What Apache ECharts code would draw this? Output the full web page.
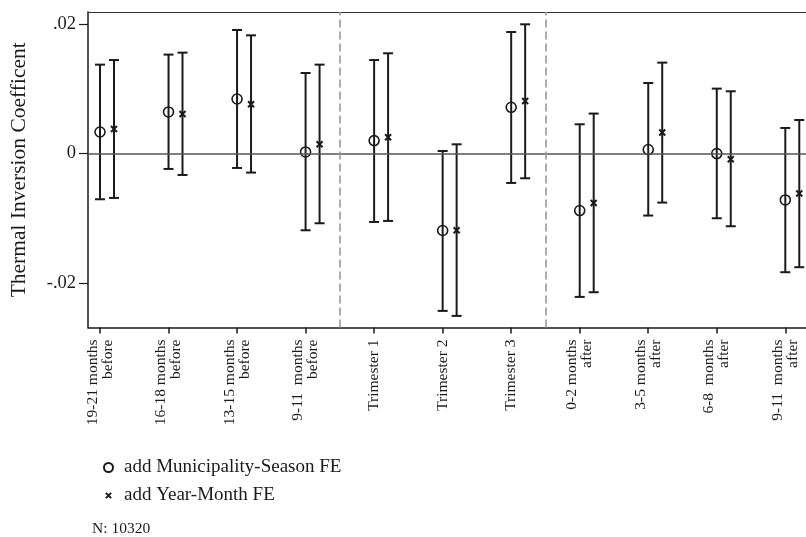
<!DOCTYPE html>
<html>
<head>
<meta charset="utf-8">
<style>
  html, body { margin: 0; padding: 0; background: #fff; }
  #chart { width: 806px; height: 537px; }
</style>
<script src="https://cdn.jsdelivr.net/npm/echarts@6/dist/echarts.min.js"></script>
</head>
<body>
<div id="chart"></div>
<script>
// Exposure windows (relative to birth) on the horizontal axis
const categories = [
  '19-21 months\nbefore', '16-18 months\nbefore', '13-15 months\nbefore', '9-11  months\nbefore',
  'Trimester 1', 'Trimester 2', 'Trimester 3',
  '0-2 months\nafter', '3-5 months\nafter', '6-8  months\nafter', '9-11  months\nafter'
];

// Model 1: add Municipality-Season FE
const est1 = [0.00333, 0.00642, 0.00842, 0.00025, 0.00200, -0.01187, 0.00714, -0.00879, 0.00062, 0.00000, -0.00715];
const lo1  = [-0.00705, -0.00237, -0.00222, -0.01183, -0.01055, -0.02427, -0.00453, -0.02211, -0.00956, -0.00998, -0.01830];
const hi1  = [0.01372, 0.01527, 0.01906, 0.01243, 0.01443, 0.00040, 0.01875, 0.00452, 0.01089, 0.01002, 0.00395];

// Model 2: add Year-Month FE
const est2 = [0.00379, 0.00611, 0.00760, 0.00143, 0.00251, -0.01183, 0.00811, -0.00762, 0.00324, -0.00088, -0.00617];
const lo2  = [-0.00684, -0.00330, -0.00293, -0.01075, -0.01039, -0.02504, -0.00381, -0.02139, -0.00756, -0.01121, -0.01753];
const hi2  = [0.01443, 0.01557, 0.01824, 0.01372, 0.01547, 0.00143, 0.01994, 0.00617, 0.01403, 0.00961, 0.00518];

// Y tick labels
const yTicks = [-0.02, 0, 0.02];
const yTickLabels = ['-.02', '0', '.02'];

const seriesNames = ['add Municipality-Season FE', 'add Year-Month FE'];
const sampleNote = 'N: 10320';

// horizontal dodge of the second model, in category units
const DODGE = 0.204;
// x range: the plot runs past the right edge of the canvas
const X_MIN = -0.175;
const X_MAX = 10.302;
const FONT = '"Liberation Serif", "Times New Roman", serif';
const INK = '#1a1a1a';
const CROSS = 'path://M0,0L10,10M10,0L0,10';
// same cross, padded inside its box so the legend key stays small
const CROSS_KEY = 'path://M0,0M12,12M2.5,2.5L9.5,9.5M9.5,2.5L2.5,9.5';

const catIdx = categories.map((_, i) => i);

function ciData(lo, hi, shift) {
  return lo.map((l, i) => [i + shift, l, hi[i]]);
}
function ptData(est, shift) {
  return est.map((v, i) => [i + shift, v]);
}

function renderCI(params, api) {
  const x = api.value(0);
  const pLo = api.coord([x, api.value(1)]);
  const pHi = api.coord([x, api.value(2)]);
  const half = 5;
  const style = { stroke: INK, lineWidth: 2 };
  return {
    type: 'group',
    children: [
      { type: 'line', shape: { x1: pLo[0], y1: pLo[1], x2: pHi[0], y2: pHi[1] }, style },
      { type: 'line', shape: { x1: pHi[0] - half, y1: pHi[1], x2: pHi[0] + half, y2: pHi[1] }, style },
      { type: 'line', shape: { x1: pLo[0] - half, y1: pLo[1], x2: pLo[0] + half, y2: pLo[1] }, style }
    ]
  };
}

const chart = echarts.init(document.getElementById('chart'), null, { renderer: 'canvas' });

chart.setOption({
  animation: false,
  backgroundColor: '#fff',
  textStyle: { fontFamily: FONT },
  grid: { left: 88, top: 12, bottom: 209.5, right: 0, show: false },
  xAxis: [
    {
      type: 'value',
      min: X_MIN,
      max: X_MAX,
      splitLine: { show: false },
      axisLine: { show: true, onZero: false, lineStyle: { color: INK, width: 1.5 } },
      axisTick: { show: true, customValues: catIdx, length: 6, lineStyle: { color: INK, width: 1.5 } },
      axisLabel: {
        customValues: catIdx,
        rotate: 90,
        margin: 12,
        fontSize: 15.5,
        lineHeight: 15,
        color: INK,
        fontFamily: FONT,
        formatter: v => categories[Math.round(v)]
      }
    },
    {
      // top frame of the plot region
      type: 'value',
      position: 'top',
      min: X_MIN,
      max: X_MAX,
      splitLine: { show: false },
      axisLine: { show: true, onZero: false, lineStyle: { color: '#333', width: 1.2 } },
      axisTick: { show: false },
      axisLabel: { show: false }
    }
  ],
  yAxis: {
    type: 'value',
    min: -0.02683,
    max: 0.02184,
    name: 'Thermal Inversion Coefficent',
    nameLocation: 'middle',
    nameRotate: 90,
    nameGap: 58,
    nameTextStyle: { fontSize: 21.5, color: INK, fontFamily: FONT },
    splitLine: { show: false },
    axisLine: { show: true, onZero: false, lineStyle: { color: INK, width: 1.5 } },
    axisTick: { show: true, customValues: yTicks, length: 9, lineStyle: { color: INK, width: 1.2 } },
    axisLabel: {
      customValues: yTicks,
      margin: 12,
      fontSize: 18.5,
      color: INK,
      fontFamily: FONT,
      formatter: v => yTickLabels[yTicks.findIndex(t => Math.abs(t - v) < 1e-9)]
    }
  },
  legend: {
    orient: 'vertical',
    left: 98,
    top: 453,
    itemWidth: 9,
    itemHeight: 9,
    itemGap: 9,
    data: [
      { name: seriesNames[0] },
      { name: seriesNames[1], icon: CROSS_KEY }
    ],
    textStyle: { fontSize: 19, lineHeight: 19, color: INK, fontFamily: FONT, padding: [0, 0, 0, 6] }
  },
  graphic: [
    {
      type: 'text',
      left: 92,
      top: 521,
      style: { text: sampleNote, fontSize: 15.5, fill: INK, fontFamily: FONT }
    }
  ],
  series: [
    {
      // reference lines: zero line and period separators
      type: 'scatter',
      name: 'guides',
      data: [],
      z: 1,
      silent: true,
      markLine: {
        symbol: 'none',
        silent: true,
        label: { show: false },
        data: [
          { yAxis: 0, lineStyle: { color: '#555', width: 1.5, type: 'solid' } },
          { xAxis: 3.5, lineStyle: { color: '#999', width: 1.6, type: [8, 4] } },
          { xAxis: 6.5, lineStyle: { color: '#999', width: 1.6, type: [8, 4] } }
        ]
      }
    },
    {
      type: 'custom',
      name: 'ci1',
      renderItem: renderCI,
      encode: { x: 0, y: [1, 2] },
      data: ciData(lo1, hi1, 0),
      z: 3,
      silent: true
    },
    {
      type: 'custom',
      name: 'ci2',
      renderItem: renderCI,
      encode: { x: 0, y: [1, 2] },
      data: ciData(lo2, hi2, DODGE),
      z: 3,
      silent: true
    },
    {
      type: 'scatter',
      name: seriesNames[0],
      symbol: 'circle',
      symbolSize: 10,
      data: ptData(est1, 0),
      z: 4,
      itemStyle: { color: 'rgba(255,255,255,0)', borderColor: INK, borderWidth: 1.6, opacity: 1 }
    },
    {
      type: 'scatter',
      name: seriesNames[1],
      symbol: CROSS,
      symbolSize: 6,
      data: ptData(est2, DODGE),
      z: 4,
      itemStyle: { color: INK, borderColor: INK, borderWidth: 2, opacity: 1 }
    }
  ]
});
</script>
</body>
</html>
